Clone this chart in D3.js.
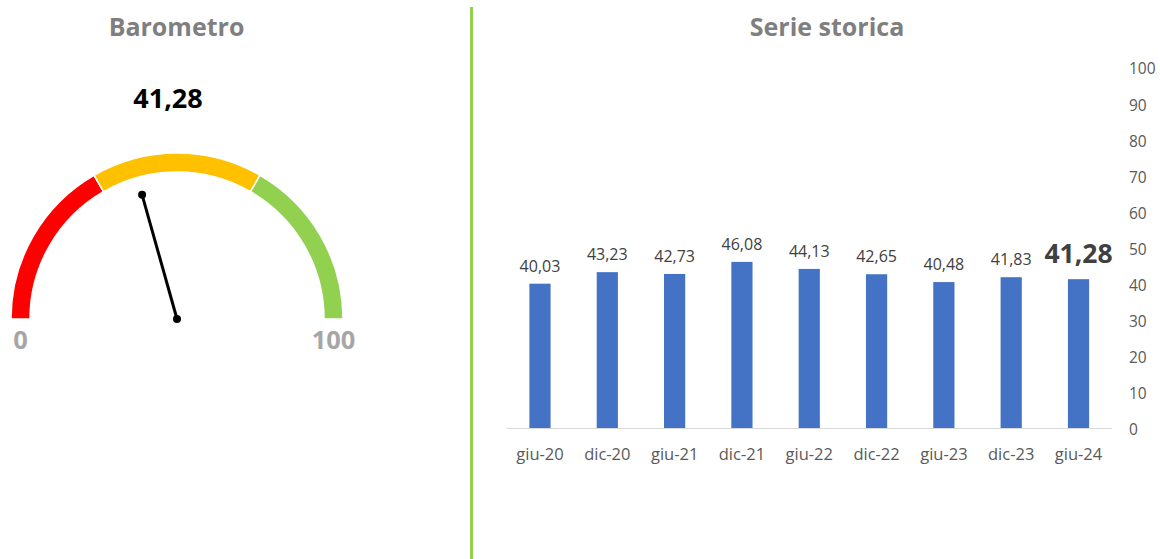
<!DOCTYPE html>
<html>
<head>
<meta charset="utf-8">
<script src="https://cdn.jsdelivr.net/npm/d3@7"></script>
<style>
  html, body { margin: 0; padding: 0; background: #fff; }
  svg { display: block; font-family: "Open Sans", "Noto Sans", sans-serif; }
</style>
</head>
<body>
<svg id="chart" width="1160" height="559"></svg>
<script>
// ---- data ----
const categories = ["giu-20","dic-20","giu-21","dic-21","giu-22","dic-22","giu-23","dic-23","giu-24"];
const values = [40.03, 43.23, 42.73, 46.08, 44.13, 42.65, 40.48, 41.83, 41.28];
const yTicks = [0,10,20,30,40,50,60,70,80,90,100];
const gaugeValue = 41.28;
const gaugeBands = [0, 33.33, 66.67, 100];
const gaugeColors = ["#ff0000", "#ffc000", "#92d050"];
const gaugeLabels = ["0", "100"];

const fmt = v => v.toFixed(2).replace(".", ",");
const svg = d3.select("#chart");

// ---- separator ----
svg.append("line").attr("x1", 471.5).attr("x2", 471.5).attr("y1", 7).attr("y2", 559)
  .attr("stroke", "#92d050").attr("stroke-width", 3);

// ---- titles ----
svg.append("text").attr("x", 176.5).attr("y", 36).attr("text-anchor", "middle")
  .attr("font-size", 25).attr("font-weight", 700).attr("fill", "#7f7f7f").text("Barometro");
svg.append("text").attr("x", 827).attr("y", 36).attr("text-anchor", "middle")
  .attr("font-size", 25).attr("font-weight", 700).attr("fill", "#7f7f7f").text("Serie storica");

// ---- gauge ----
const cx = 177, cy = 319, rOuter = 166, rInner = 147;
const ang = d3.scaleLinear().domain([0, 100]).range([-Math.PI / 2, Math.PI / 2]);
const arc = d3.arc().innerRadius(rInner).outerRadius(rOuter);
const g = svg.append("g").attr("transform", `translate(${cx},${cy})`);
g.selectAll("path.band").data(gaugeColors).join("path")
  .attr("class", "band")
  .attr("d", (c, i) => arc({startAngle: ang(gaugeBands[i]), endAngle: ang(gaugeBands[i + 1])}))
  .attr("fill", c => c).attr("stroke", "#fff").attr("stroke-width", 1.5);

const needleLen = 129;
const a = ang(gaugeValue);
const nx = needleLen * Math.sin(a), ny = -needleLen * Math.cos(a);
g.append("line").attr("x1", 0).attr("y1", 0).attr("x2", nx).attr("y2", ny)
  .attr("stroke", "#000").attr("stroke-width", 3);
g.append("circle").attr("cx", 0).attr("cy", 0).attr("r", 4).attr("fill", "#000");
g.append("circle").attr("cx", nx).attr("cy", ny).attr("r", 4).attr("fill", "#000");

const rMid = (rInner + rOuter) / 2;
g.selectAll("text.glab").data(gaugeLabels).join("text")
  .attr("class", "glab")
  .attr("x", (d, i) => i === 0 ? -rMid : rMid)
  .attr("y", 30).attr("text-anchor", "middle")
  .attr("font-size", 25.5).attr("font-weight", 700).attr("fill", "#a6a6a6").text(d => d);

svg.append("text").attr("x", 168).attr("y", 108).attr("text-anchor", "middle")
  .attr("font-size", 27).attr("font-weight", 700).attr("fill", "#000").text(fmt(gaugeValue));

// ---- bar chart ----
const x = d3.scaleBand().domain(categories).range([506.5, 1112]).paddingInner(0.685).paddingOuter(0.34);
const y = d3.scaleLinear().domain([0, 100]).range([428, 67.5]);

svg.append("line").attr("x1", 506.5).attr("x2", 1112).attr("y1", 428.5).attr("y2", 428.5)
  .attr("stroke", "#d9d9d9").attr("stroke-width", 1);

svg.selectAll("rect.bar").data(values).join("rect")
  .attr("class", "bar")
  .attr("x", (d, i) => x(categories[i]))
  .attr("width", x.bandwidth())
  .attr("y", d => y(d))
  .attr("height", d => y(0) - y(d))
  .attr("fill", "#4472c4");

const last = values.length - 1;
svg.selectAll("text.vlab").data(values).join("text")
  .attr("class", "vlab")
  .attr("x", (d, i) => x(categories[i]) + x.bandwidth() / 2)
  .attr("y", (d, i) => i === last ? y(d) - 16 : y(d) - 12)
  .attr("text-anchor", "middle")
  .attr("font-size", (d, i) => i === last ? 26.5 : 16)
  .attr("font-weight", (d, i) => i === last ? 700 : 400)
  .attr("fill", "#404040")
  .text(d => fmt(d));

// x axis labels
const xAxis = d3.axisBottom(x).tickSize(0).tickPadding(0);
const xg = svg.append("g").attr("transform", "translate(0,428)").call(xAxis);
xg.select(".domain").remove();
xg.selectAll("text").attr("dy", null).attr("y", 32)
  .attr("font-family", "\"Open Sans\", sans-serif").attr("font-size", 16.5).attr("fill", "#595959");

// y axis labels (right)
const yAxis = d3.axisRight(y).tickValues(yTicks).tickSize(0).tickPadding(0);
const yg = svg.append("g").attr("transform", "translate(1129,1.5)").call(yAxis);
yg.select(".domain").remove();
yg.selectAll("text").attr("font-family", "\"Open Sans\", sans-serif")
  .attr("font-size", 15.5).attr("fill", "#595959");
</script>
</body>
</html>
